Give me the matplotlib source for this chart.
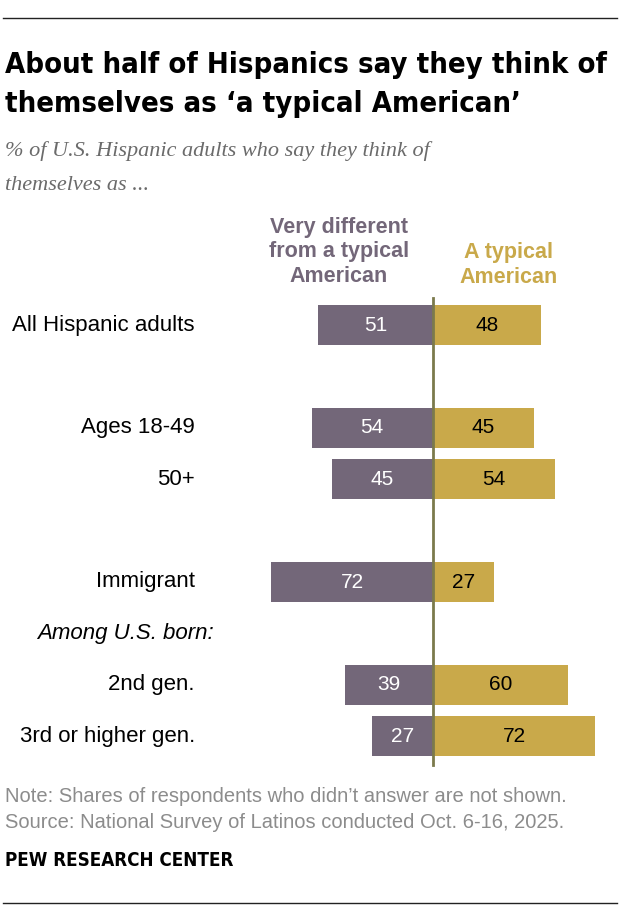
import matplotlib
matplotlib.use('Agg')
import matplotlib.pyplot as plt
import matplotlib.transforms as mtransforms

# data
groups = ['All Hispanic adults', 'Ages 18-49', '50+', 'Immigrant', '2nd gen.', '3rd or higher gen.']
row_pos = [0, 2, 3, 5, 7, 8]
very_different = [51, 54, 45, 72, 39, 27]
typical = [48, 45, 54, 27, 60, 72]
subhead = 'Among U.S. born:'
subhead_pos = 6

purple = '#736779'
gold = '#c9a94a'
line_col = '#7b7a4c'

W, H = 620, 924
fig = plt.figure(figsize=(W / 100, H / 100), dpi=100)

def fx(px):
    return px / W

def fy(py):
    return 1 - py / H

cond = ['DejaVu Sans']
body = ['Liberation Sans', 'DejaVu Sans']

# top and bottom rules
fig.add_artist(plt.Line2D([fx(3), fx(617)], [fy(18), fy(18)], color='#222222', lw=1))
fig.add_artist(plt.Line2D([fx(3), fx(617)], [fy(903), fy(903)], color='#222222', lw=1))

fig.text(fx(5), fy(73), 'About half of Hispanics say they think of', family=cond, stretch='condensed',
         weight='bold', fontsize=21, va='baseline')
fig.text(fx(5), fy(112), 'themselves as \u2018a typical American\u2019', family=cond, stretch='condensed',
         weight='bold', fontsize=21, va='baseline')
fig.text(fx(5), fy(156), '% of U.S. Hispanic adults who say they think of', family=['Liberation Serif', 'DejaVu Serif'],
         style='italic', fontsize=16, color='#6b6b6b', va='baseline')
fig.text(fx(5), fy(190), 'themselves as ...', family=['Liberation Serif', 'DejaVu Serif'],
         style='italic', fontsize=16, color='#6b6b6b', va='baseline')

# bar axes: center at x=433px, 2.25 px per point; rows 51.4 px apart, first at y=325px
cx, sx = 433, 2.25
ax_l, ax_r = 200, 615
y0, sy = 325, 51.4
ax_t, ax_b = 290, 775
ax = fig.add_axes([fx(ax_l), fy(ax_b), (ax_r - ax_l) / W, (ax_b - ax_t) / H])
ax.set_xlim(-(cx - ax_l) / sx, (ax_r - cx) / sx)
ax.set_ylim((ax_b - y0) / sy, (ax_t - y0) / sy)
ax.axis('off')

ax.barh(row_pos, [-v for v in very_different], height=0.78, color=purple)
ax.barh(row_pos, typical, height=0.78, color=gold)
ax.plot([0, 0], [(298 - y0) / sy, (765 - y0) / sy], color=line_col, lw=2)

for p, v in zip(row_pos, very_different):
    ax.text(-v / 2, p, str(v), ha='center', va='center', color='white', family=body, fontsize=15)
for p, v in zip(row_pos, typical):
    ax.text(v / 2, p, str(v), ha='center', va='center', color='black', family=body, fontsize=15)

tr = mtransforms.blended_transform_factory(fig.transFigure, ax.transData)
for p, g in zip(row_pos, groups):
    ax.text(fx(195), p, g, transform=tr, ha='right', va='center', family=body, fontsize=16)
ax.text(fx(214), subhead_pos, subhead, transform=tr, ha='right', va='center', family=body,
        style='italic', fontsize=16)

# column headers
fig.text(fx(339), fy(252), 'Very different\nfrom a typical\nAmerican', ha='center', va='center',
         family=body, weight='bold', fontsize=15.5, color=purple, linespacing=1.25)
fig.text(fx(509), fy(265), 'A typical\nAmerican', ha='center', va='center',
         family=body, weight='bold', fontsize=15.5, color=gold, linespacing=1.25)

fig.text(fx(5), fy(797), 'Note: Shares of respondents who didn\u2019t answer are not shown.', family=body,
         fontsize=14.5, color='#8c8c8c', va='center')
fig.text(fx(5), fy(822), 'Source: National Survey of Latinos conducted Oct. 6-16, 2025.', family=body,
         fontsize=14.5, color='#8c8c8c', va='center')
fig.text(fx(5), fy(860), 'PEW RESEARCH CENTER', family=cond, stretch='condensed', weight='bold',
         fontsize=13.5, va='center')

fig.savefig('out.png', dpi=100)
